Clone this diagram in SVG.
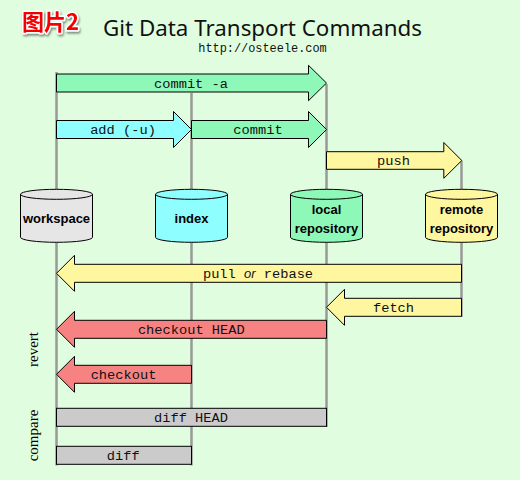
<svg xmlns="http://www.w3.org/2000/svg" width="520" height="480" viewBox="0 0 520 480">
<defs>
<style>
.bg{fill:#e0fedf}
.life{stroke:#999;stroke-width:2.5;fill:none}
.arr{stroke:#000;stroke-width:1;stroke-linejoin:miter}
.green{fill:#8ef8b8}
.cyan{fill:#8efeff}
.yellow{fill:#fff6a0}
.red{fill:#f78282}
.grey{fill:#cbcbcb}
.ws{fill:#e6e6e6}
.cyl{stroke:#000;stroke-width:1}
.lbl{font-family:"Liberation Mono","Courier New",monospace;font-size:13.7px;fill:#111;text-anchor:middle}
.node{font-family:"Liberation Sans",Arial,sans-serif;font-weight:bold;font-size:13px;fill:#000;text-anchor:middle}
.side{font-family:"Liberation Serif","Times New Roman",serif;font-size:15px;fill:#000;text-anchor:middle}
</style>
<filter id="sh" x="-20%" y="-20%" width="140%" height="160%">
<feDropShadow dx="1" dy="2" stdDeviation="1.2" flood-color="#000" flood-opacity="0.45"/>
</filter>
</defs>
<rect class="bg" x="0" y="0" width="520" height="480"/>

<text x="22" y="30" font-family="'Noto Sans CJK SC',sans-serif" font-weight="bold" font-size="22" fill="#f50000" stroke="#fff" stroke-width="3" paint-order="stroke" stroke-linejoin="round" filter="url(#sh)">图片2</text>
<text x="262.5" y="36" font-family="'Noto Sans','Liberation Sans',sans-serif" font-size="21.5" fill="#111" text-anchor="middle" textLength="319" lengthAdjust="spacingAndGlyphs">Git Data Transport Commands</text>
<text x="262.5" y="51.7" font-family="'Liberation Mono','Courier New',monospace" font-size="11.9" fill="#111" text-anchor="middle">http://osteele.com</text>

<g id="lifelines">
<line class="life" x1="56.5" y1="72" x2="56.5" y2="465.5"/>
<line class="life" x1="191.5" y1="93" x2="191.5" y2="465.5"/>
<line class="life" x1="326.5" y1="84" x2="326.5" y2="427"/>
<line class="life" x1="461.5" y1="161" x2="461.5" y2="317"/>
</g>

<g id="workspace">
<path class="cyl ws" d="M20.5,194.3 A36,5 0 0 1 92.5,194.3 V237.3 A36,5 0 0 1 20.5,237.3 Z"/>
<path class="cyl" fill="none" d="M20.5,194.3 A36,5 0 0 0 92.5,194.3"/>
<text class="node" x="56.5" y="223.3">workspace</text>
</g>
<g id="index">
<path class="cyl cyan" d="M155.5,194.3 A36,5 0 0 1 227.5,194.3 V237.3 A36,5 0 0 1 155.5,237.3 Z"/>
<path class="cyl" fill="none" d="M155.5,194.3 A36,5 0 0 0 227.5,194.3"/>
<text class="node" x="191.5" y="223.3">index</text>
</g>
<g id="local-repository">
<path class="cyl green" d="M290.5,194.3 A36,5 0 0 1 362.5,194.3 V237.3 A36,5 0 0 1 290.5,237.3 Z"/>
<path class="cyl" fill="none" d="M290.5,194.3 A36,5 0 0 0 362.5,194.3"/>
<text class="node" x="326.5" y="214">local</text>
<text class="node" x="326.5" y="233.3">repository</text>
</g>
<g id="remote-repository">
<path class="cyl yellow" d="M425.5,194.3 A36,5 0 0 1 497.5,194.3 V237.3 A36,5 0 0 1 425.5,237.3 Z"/>
<path class="cyl" fill="none" d="M425.5,194.3 A36,5 0 0 0 497.5,194.3"/>
<text class="node" x="461.5" y="214">remote</text>
<text class="node" x="461.5" y="233.3">repository</text>
</g>

<g id="connectors">
<polygon class="arr green" points="56.5,74 308.5,74 308.5,65.3 326.5,83 308.5,100.7 308.5,92 56.5,92"/>
<text class="lbl" x="191" y="87.5">commit -a</text>

<polygon class="arr cyan" points="56.5,120.5 173.5,120.5 173.5,111.5 191.5,129.5 173.5,147.5 173.5,138.5 56.5,138.5"/>
<text class="lbl" x="123" y="134">add (-u)</text>

<polygon class="arr green" points="191.5,120.5 308.5,120.5 308.5,111.5 326.5,129.5 308.5,147.5 308.5,138.5 191.5,138.5"/>
<text class="lbl" x="258" y="134">commit</text>

<polygon class="arr yellow" points="326.5,151.7 443.8,151.7 443.8,142.5 461.8,160.5 443.8,178.3 443.8,169.3 326.5,169.3"/>
<text class="lbl" x="393.5" y="165">push</text>

<polygon class="arr yellow" points="461.5,264.3 74.5,264.3 74.5,255.3 56.5,273.3 74.5,291.3 74.5,282.3 461.5,282.3"/>
<text x="258" y="277.8" text-anchor="middle" font-size="13.7" fill="#111"><tspan font-family="'Liberation Mono','Courier New',monospace">pull </tspan><tspan font-family="'Liberation Sans',Arial,sans-serif" font-style="italic" font-size="13">or</tspan><tspan font-family="'Liberation Mono','Courier New',monospace"> rebase</tspan></text>

<polygon class="arr yellow" points="461.5,298.3 344.5,298.3 344.5,289.3 326.5,307.3 344.5,325.3 344.5,316.3 461.5,316.3"/>
<text class="lbl" x="393.5" y="311.8">fetch</text>

<polygon class="arr red" points="326.5,320.3 74.5,320.3 74.5,311.3 56.5,329.3 74.5,347.3 74.5,338.3 326.5,338.3"/>
<text class="lbl" x="191.3" y="333.8">checkout HEAD</text>

<polygon class="arr red" points="191.5,365.3 74.5,365.3 74.5,356.3 56.5,374.3 74.5,392.3 74.5,383.3 191.5,383.3"/>
<text class="lbl" x="123.5" y="378.8">checkout</text>

<rect class="arr grey" x="56.5" y="408.3" width="270" height="18"/>
<text class="lbl" x="191" y="421.8">diff HEAD</text>

<rect class="arr grey" x="56.5" y="446.3" width="135" height="18"/>
<text class="lbl" x="123.3" y="459.8">diff</text>
</g>

<text class="side" transform="translate(38.3,349.5) rotate(-90)">revert</text>
<text class="side" transform="translate(37.8,435.5) rotate(-90)">compare</text>
</svg>
